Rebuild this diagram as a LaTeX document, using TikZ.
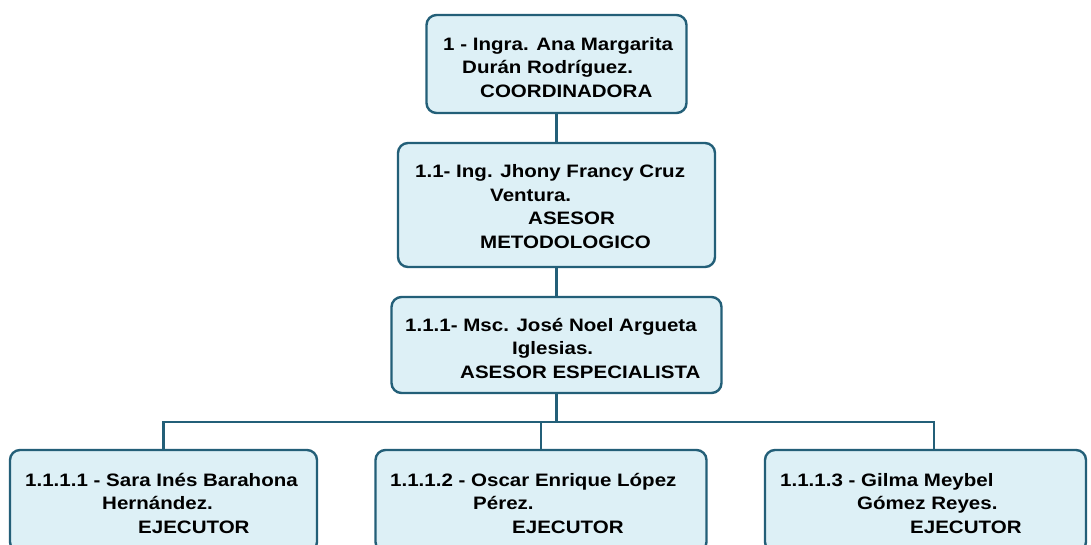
\documentclass[tikz,border=0pt]{standalone}
\usepackage{fontspec}
\setmainfont{Liberation Sans}[FakeStretch=1.14]
\definecolor{boxfill}{RGB}{221,240,246}
\definecolor{boxline}{RGB}{35,95,120}
\begin{document}
\begin{tikzpicture}[x=1pt,y=-1pt,
  orgbox/.style={draw=boxline, fill=boxfill, line width=2.4pt, rounded corners=10pt,
    rectangle, inner sep=0pt, outer sep=0pt},
  txt/.style={inner sep=0pt, align=left, anchor=base west,
    font=\fontsize{18}{23.5}\selectfont\bfseries},
  conn/.style={draw=boxline, line width=2.2pt}]
\clip (0,0) rectangle (1091,544);
\fill[white] (0,0) rectangle (1091,544);
% boxes
\node[orgbox, minimum width=260pt, minimum height=98pt] (b1) at (556.5,64) {};
\node[orgbox, minimum width=317pt, minimum height=124pt] (b2) at (556.5,205) {};
\node[orgbox, minimum width=330pt, minimum height=96pt] (b3) at (556.5,345) {};
\node[orgbox, minimum width=307pt, minimum height=102pt] (b4) at (163.5,501) {};
\node[orgbox, minimum width=331pt, minimum height=102pt] (b5) at (541,501) {};
\node[orgbox, minimum width=321pt, minimum height=102pt] (b6) at (925.5,501) {};
% connectors
\coordinate (bus) at (556.5,422);
\draw[conn] (b1.south) -- (b2.north);
\draw[conn] (b2.south) -- (b3.north);
\draw[conn] (b3.south) -- (bus);
\draw[conn] (b4.north) |- (bus) -| ([xshift=8.5pt]b6.north);
\draw[conn] (b5.north) -- (b5.north |- bus);
% texts (anchor = baseline of the last line)
\node[txt] (t1) at (443,97) {1 - Ingra. Ana Margarita\\\hspace*{19pt}Durán Rodríguez.\\\hspace*{37pt}COORDINADORA};
\node[txt] (t2) at (415,248) {1.1- Ing. Jhony Francy Cruz\\\hspace*{75pt}Ventura.\\\hspace*{113pt}ASESOR\\\hspace*{65pt}METODOLOGICO};
\node[txt] (t3) at (405,378) {1.1.1- Msc. José Noel Argueta\\\hspace*{107pt}Iglesias.\\\hspace*{55pt}ASESOR ESPECIALISTA};
\node[txt] (t4) at (25,533) {1.1.1.1 - Sara Inés Barahona\\\hspace*{77pt}Hernández.\\\hspace*{113pt}EJECUTOR};
\node[txt] (t5) at (390,533) {1.1.1.2 - Oscar Enrique López\\\hspace*{83pt}Pérez.\\\hspace*{122pt}EJECUTOR};
\node[txt] (t6) at (780,533) {1.1.1.3 - Gilma Meybel\\\hspace*{77pt}Gómez Reyes.\\\hspace*{130pt}EJECUTOR};
\end{tikzpicture}
\end{document}
